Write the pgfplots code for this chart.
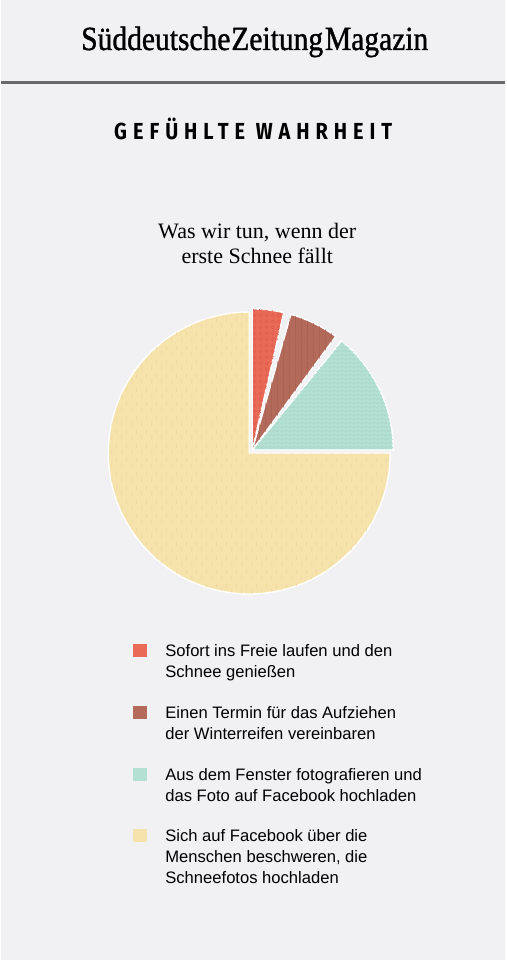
\documentclass[border=0pt]{standalone}
\usepackage{pgfplots}
\pgfplotsset{compat=1.18}
\usepackage{pgfplotstable}
\usepackage{fontspec}
\usetikzlibrary{calc,patterns}
\setmainfont{Liberation Sans}
\newfontfamily\logofont[FakeBold=1.2]{Liberation Serif}
\newfontfamily\subfont{Liberation Serif}
\newfontfamily\headfont[LetterSpace=30]{Fira Sans}

\definecolor{bg}{RGB}{241,241,244}
\definecolor{cred}{RGB}{234,106,88}
\definecolor{cbrown}{RGB}{180,106,90}
\definecolor{cteal}{RGB}{180,224,212}
\definecolor{cyellow}{RGB}{246,227,172}
\definecolor{pred}{RGB}{222,92,76}
\definecolor{pbrown}{RGB}{166,96,80}
\definecolor{pteal}{RGB}{166,214,200}
\definecolor{pyellow}{RGB}{234,212,150}
\definecolor{rulegray}{RGB}{105,105,105}

\pgfdeclarepatternformonly{vdash}{\pgfpointorigin}{\pgfqpoint{5pt}{7pt}}{\pgfqpoint{5pt}{7pt}}{%
  \pgfsetlinewidth{0.35pt}%
  \pgfpathmoveto{\pgfqpoint{1pt}{1pt}}\pgfpathlineto{\pgfqpoint{1pt}{4pt}}%
  \pgfpathmoveto{\pgfqpoint{3.5pt}{4.5pt}}\pgfpathlineto{\pgfqpoint{3.5pt}{6.5pt}}%
  \pgfusepath{stroke}}
\pgfdeclarepatternformonly{vgrain}{\pgfpointorigin}{\pgfqpoint{3pt}{10pt}}{\pgfqpoint{3pt}{10pt}}{%
  \pgfsetlinewidth{0.3pt}%
  \pgfpathmoveto{\pgfqpoint{1pt}{0pt}}\pgfpathlineto{\pgfqpoint{1pt}{10pt}}%
  \pgfusepath{stroke}}
\pgfdeclarepatternformonly{dlines}{\pgfpointorigin}{\pgfqpoint{2pt}{2pt}}{\pgfqpoint{2pt}{2pt}}{%
  \pgfsetlinewidth{0.3pt}%
  \pgfpathmoveto{\pgfqpoint{0pt}{0pt}}\pgfpathlineto{\pgfqpoint{2pt}{1pt}}%
  \pgfusepath{stroke}}
\pgfdeclarepatternformonly{lace}{\pgfpointorigin}{\pgfqpoint{3pt}{3pt}}{\pgfqpoint{3pt}{3pt}}{%
  \pgfsetlinewidth{0.3pt}%
  \pgfpathcircle{\pgfqpoint{1.5pt}{1.5pt}}{0.9pt}%
  \pgfusepath{stroke}}

% shares in percent: red, brown, teal, yellow
\pgfplotstableread{
share
4
6.5
14.5
75
}\piedata

\pgfplotstablegetelem{0}{share}\of\piedata\pgfmathsetmacro\sA{\pgfplotsretval}
\pgfplotstablegetelem{1}{share}\of\piedata\pgfmathsetmacro\sB{\pgfplotsretval}
\pgfplotstablegetelem{2}{share}\of\piedata\pgfmathsetmacro\sC{\pgfplotsretval}
\pgfplotstablegetelem{3}{share}\of\piedata\pgfmathsetmacro\sD{\pgfplotsretval}
\pgfmathsetmacro\aA{90}
\pgfmathsetmacro\aB{\aA-3.6*\sA}
\pgfmathsetmacro\aC{\aB-3.6*\sB}
\pgfmathsetmacro\aD{\aC-3.6*\sC}
\pgfmathsetmacro\aE{\aD-3.6*\sD}
\def\g{1.5}
\pgfmathsetmacro\rEnd{\aB+\g}
\pgfmathsetmacro\bStart{\aB-\g}
\pgfmathsetmacro\bEnd{\aC+\g}
\pgfmathsetmacro\tStart{\aC-\g}

\newcommand\entry[1]{\parbox[t]{170pt}{\fontsize{8.3}{10.5}\selectfont\strut #1\strut}}

\begin{document}
\begin{tikzpicture}
\begin{axis}[
  x=0.5pt, y=0.5pt,
  xmin=0, xmax=504, ymin=0, ymax=960,
  hide axis, clip=false,
  legend style={at={(0.2613,0.33125)}, anchor=north west, draw=none, fill=none,
    inner sep=0pt, outer sep=0pt, row sep=22pt, column sep=9.5pt,
    nodes={inner sep=0pt}, cells={anchor=base west}},
]
\fill[bg] (axis cs:0,0) rectangle (axis cs:504,960);
% header
\node[anchor=base, inner sep=0pt] at (axis cs:253.5,910)
  {\resizebox{173.5pt}{11.7pt}{\logofont\fontsize{16}{16}\selectfont Süddeutsche\kern0.5pt Zeitung\kern1pt Magazin}};
\draw[rulegray, line width=1.25pt] (axis cs:0,877.5) -- (axis cs:504,877.5);
\node[anchor=base, inner sep=0pt] at (axis cs:252,820)
  {\resizebox{139pt}{\height}{\headfont\bfseries\fontsize{11.6}{11.6}\selectfont GEFÜHLTE WAHRHEIT}};
\node[anchor=base, inner sep=0pt] at (axis cs:256,721.7)
  {\subfont\fontsize{11}{12.5}\selectfont Was wir tun, wenn der};
\node[anchor=base, inner sep=0pt] at (axis cs:256,696.7)
  {\subfont\fontsize{11}{12.5}\selectfont erste Schnee fällt};
% pie
\fill[cyellow, draw=white, line width=0.7pt, line join=round, postaction={pattern=vdash, pattern color=pyellow}]
  (axis cs:248,507) -- ++(\aD:70.5pt) arc[start angle=\aD, end angle=\aE, radius=70.5pt] -- cycle;
\fill[cred, draw=white, line width=0.7pt, line join=round, postaction={pattern=lace, pattern color=pred}]
  (axis cs:251,510) -- ++(\aA:70.5pt) arc[start angle=\aA, end angle=\rEnd, radius=70.5pt] -- cycle;
\fill[cbrown, draw=white, line width=0.7pt, line join=round, postaction={pattern=vgrain, pattern color=pbrown}]
  (axis cs:251,510) -- ++(\bStart:70.5pt) arc[start angle=\bStart, end angle=\bEnd, radius=70.5pt] -- cycle;
\fill[cteal, draw=white, line width=0.7pt, line join=round, postaction={pattern=dlines, pattern color=pteal}]
  (axis cs:251,510) -- ++(\tStart:70.5pt) arc[start angle=\tStart, end angle=\aD, radius=70.5pt] -- cycle;
% legend
\addlegendimage{legend image code/.code={\fill[cred] (0pt,0pt) rectangle (6.3pt,6pt);}}
\addlegendentry{\entry{Sofort ins Freie laufen und den\\Schnee genießen}}
\addlegendimage{legend image code/.code={\fill[cbrown] (0pt,0pt) rectangle (6.3pt,6pt);}}
\addlegendentry{\entry{Einen Termin für das Aufziehen\\der Winterreifen vereinbaren}}
\addlegendimage{legend image code/.code={\fill[cteal] (0pt,0pt) rectangle (6.3pt,6pt);}}
\addlegendentry{\entry{Aus dem Fenster fotografieren und\\das Foto auf Facebook hochladen}}
\addlegendimage{legend image code/.code={\fill[cyellow] (0pt,0pt) rectangle (6.3pt,6pt);}}
\addlegendentry{\entry{Sich auf Facebook über die\\Menschen beschweren, die\\Schneefotos hochladen}}
\end{axis}
\end{tikzpicture}
\end{document}
